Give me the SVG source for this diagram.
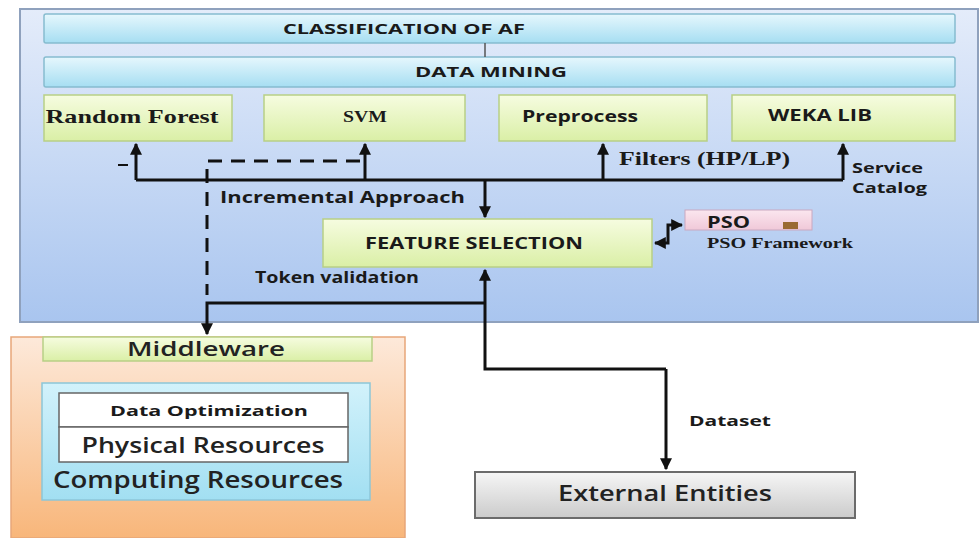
<svg xmlns="http://www.w3.org/2000/svg" width="980" height="538" viewBox="0 0 980 538">
<defs>
<linearGradient id="gMain" x1="0" y1="0" x2="0" y2="1"><stop offset="0" stop-color="#e4ecfa"/><stop offset="1" stop-color="#a9c5ef"/></linearGradient>
<linearGradient id="gBar" x1="0" y1="0" x2="0" y2="1"><stop offset="0" stop-color="#e6f7fd"/><stop offset="1" stop-color="#a6def2"/></linearGradient>
<linearGradient id="gGreen" x1="0" y1="0" x2="0" y2="1"><stop offset="0" stop-color="#f6fce0"/><stop offset="1" stop-color="#daefa6"/></linearGradient>
<linearGradient id="gOrange" x1="0" y1="0" x2="0" y2="1"><stop offset="0" stop-color="#fde9da"/><stop offset="1" stop-color="#f8b67a"/></linearGradient>
<linearGradient id="gCyan" x1="0" y1="0" x2="0" y2="1"><stop offset="0" stop-color="#d2f2fb"/><stop offset="1" stop-color="#a2dff2"/></linearGradient>
<linearGradient id="gGray" x1="0" y1="0" x2="0" y2="1"><stop offset="0" stop-color="#f6f6f6"/><stop offset="1" stop-color="#cbcbcb"/></linearGradient>
<linearGradient id="gPink" x1="0" y1="0" x2="0" y2="1"><stop offset="0" stop-color="#fbe6ef"/><stop offset="1" stop-color="#f0c8d8"/></linearGradient>
<marker id="ah" viewBox="0 0 10 10" refX="9" refY="5" markerWidth="4" markerHeight="4" orient="auto-start-reverse"><path d="M0,0 L10,5 L0,10 z" fill="#111"/></marker>
</defs>
<style>
.sans{font-family:"Open Sans","Liberation Sans",sans-serif;font-weight:bold;fill:#1a1a1a}
.serif{font-family:"Liberation Serif","Times New Roman",serif;font-weight:bold;fill:#1a1a1a}
.reg{font-family:"Open Sans","Liberation Sans",sans-serif;font-weight:600;fill:#222}
.bar{fill:url(#gBar);stroke:#86bccf;stroke-width:1.5}
.green{fill:url(#gGreen);stroke:#b8cf86;stroke-width:1.5}
.wire{fill:none;stroke:#111;stroke-width:3}
.dash{fill:none;stroke:#111;stroke-width:3;stroke-dasharray:14 9}
</style>
<rect width="980" height="538" fill="#ffffff"/>
<g id="container-main">
<rect x="20" y="9" width="958" height="313" fill="url(#gMain)" stroke="#8fa1bd" stroke-width="2"/>
</g>
<g id="classification">
<rect class="bar" x="44" y="14" width="911" height="29" rx="2"/>
<text class="sans" x="404" y="34" font-size="14" text-anchor="middle" textLength="242" lengthAdjust="spacingAndGlyphs">CLASSIFICATION OF AF</text>
</g>
<g id="datamining">
<rect class="bar" x="44" y="57" width="911" height="30" rx="2"/>
<text class="sans" x="491" y="77" font-size="15" text-anchor="middle" textLength="152" lengthAdjust="spacingAndGlyphs">DATA MINING</text>
</g>
<g id="randomforest">
<rect class="green" x="44" y="95" width="188" height="46"/>
<text class="serif" x="132" y="123" font-size="19" text-anchor="middle" textLength="173" lengthAdjust="spacingAndGlyphs">Random Forest</text>
</g>
<g id="svm">
<rect class="green" x="264" y="95" width="201" height="46"/>
<text class="serif" x="365" y="122" font-size="16" text-anchor="middle" textLength="44" lengthAdjust="spacingAndGlyphs">SVM</text>
</g>
<g id="preprocess">
<rect class="green" x="499" y="95" width="208" height="46"/>
<text class="sans" x="580" y="122" font-size="16" text-anchor="middle" textLength="116" lengthAdjust="spacingAndGlyphs">Preprocess</text>
</g>
<g id="wekalib">
<rect class="green" x="732" y="95" width="223" height="46"/>
<text class="sans" x="820" y="121" font-size="16" text-anchor="middle" textLength="104" lengthAdjust="spacingAndGlyphs">WEKA LIB</text>
</g>
<g id="featureselection">
<rect class="green" x="323" y="219" width="329" height="48"/>
<text class="sans" x="474" y="249" font-size="16" text-anchor="middle" textLength="218" lengthAdjust="spacingAndGlyphs">FEATURE SELECTION</text>
</g>
<g id="pso">
<rect x="685" y="210" width="127" height="20" fill="url(#gPink)" stroke="#c9a8c0" stroke-width="1"/>
<text class="sans" x="707" y="228" font-size="16" textLength="43" lengthAdjust="spacingAndGlyphs">PSO</text>
<rect x="783" y="222" width="15" height="7" fill="#9a6a32"/>
<text class="serif" x="707" y="248" font-size="15" textLength="146" lengthAdjust="spacingAndGlyphs" fill="#1a1a3a">PSO Framework</text>
</g>
<g id="middleware-container">
<rect x="11" y="337" width="394" height="201" fill="url(#gOrange)" stroke="#e7a679" stroke-width="1.5"/>
</g>
<g id="middleware">
<rect class="green" x="43" y="337" width="329" height="24"/>
<text class="reg" x="206" y="356" font-size="20" text-anchor="middle" textLength="158" lengthAdjust="spacingAndGlyphs">Middleware</text>
</g>
<g id="computing">
<rect x="42" y="383" width="328" height="117" fill="url(#gCyan)" stroke="#8cc6d8" stroke-width="1.5"/>
<text class="reg" x="198" y="488" font-size="23" text-anchor="middle" textLength="290" lengthAdjust="spacingAndGlyphs" fill="#17383e">Computing Resources</text>
</g>
<g id="dataoptimization">
<rect x="59" y="393" width="289" height="34" fill="#ffffff" stroke="#666" stroke-width="1.5"/>
<text class="sans" x="209" y="416" font-size="15" text-anchor="middle" textLength="198" lengthAdjust="spacingAndGlyphs">Data Optimization</text>
</g>
<g id="physical">
<rect x="59" y="427" width="289" height="35" fill="#ffffff" stroke="#666" stroke-width="1.5"/>
<text class="reg" x="203" y="453" font-size="21" text-anchor="middle" textLength="243" lengthAdjust="spacingAndGlyphs">Physical Resources</text>
</g>
<g id="external">
<rect x="475" y="472" width="380" height="46" fill="url(#gGray)" stroke="#6b6b6b" stroke-width="2"/>
<text class="reg" x="665" y="501" font-size="21" text-anchor="middle" textLength="214" lengthAdjust="spacingAndGlyphs">External Entities</text>
</g>
<g id="connectors">
<line x1="485" y1="43" x2="485" y2="57" stroke="#555" stroke-width="1.5"/>
<polyline class="wire" points="136,180 843,180"/>
<line class="wire" x1="136" y1="180" x2="136" y2="144" marker-end="url(#ah)"/>
<line class="wire" x1="365" y1="180" x2="365" y2="144" marker-end="url(#ah)"/>
<line class="wire" x1="603" y1="180" x2="603" y2="144" marker-end="url(#ah)"/>
<line class="wire" x1="843" y1="180" x2="843" y2="144" marker-end="url(#ah)"/>
<line x1="118" y1="165" x2="128" y2="165" stroke="#111" stroke-width="2"/>
<line class="wire" x1="485" y1="180" x2="485" y2="217" marker-end="url(#ah)"/>
<polyline class="dash" points="360,161 207,161 207,295"/>
<polyline class="wire" points="485,303 207,303 207,334" marker-end="url(#ah)"/>
<polyline class="wire" points="666,369 485,369 485,270" marker-end="url(#ah)"/>
<line class="wire" x1="666" y1="369" x2="666" y2="469" marker-end="url(#ah)"/>
<polyline class="wire" points="655,243 668,243 668,225 682,225" marker-start="url(#ah)" marker-end="url(#ah)"/>
<text class="sans" x="220" y="203" font-size="16" textLength="245" lengthAdjust="spacingAndGlyphs">Incremental Approach</text>
<text class="sans" x="255" y="283" font-size="16" textLength="164" lengthAdjust="spacingAndGlyphs">Token validation</text>
<text class="serif" x="619" y="165" font-size="18" textLength="171" lengthAdjust="spacingAndGlyphs">Filters (HP/LP)</text>
<text class="sans" x="852" y="173" font-size="15" textLength="71" lengthAdjust="spacingAndGlyphs">Service</text>
<text class="sans" x="852" y="193" font-size="15" textLength="75" lengthAdjust="spacingAndGlyphs">Catalog</text>
<text class="sans" x="689" y="426" font-size="15" textLength="82" lengthAdjust="spacingAndGlyphs">Dataset</text>
</g>
</svg>
